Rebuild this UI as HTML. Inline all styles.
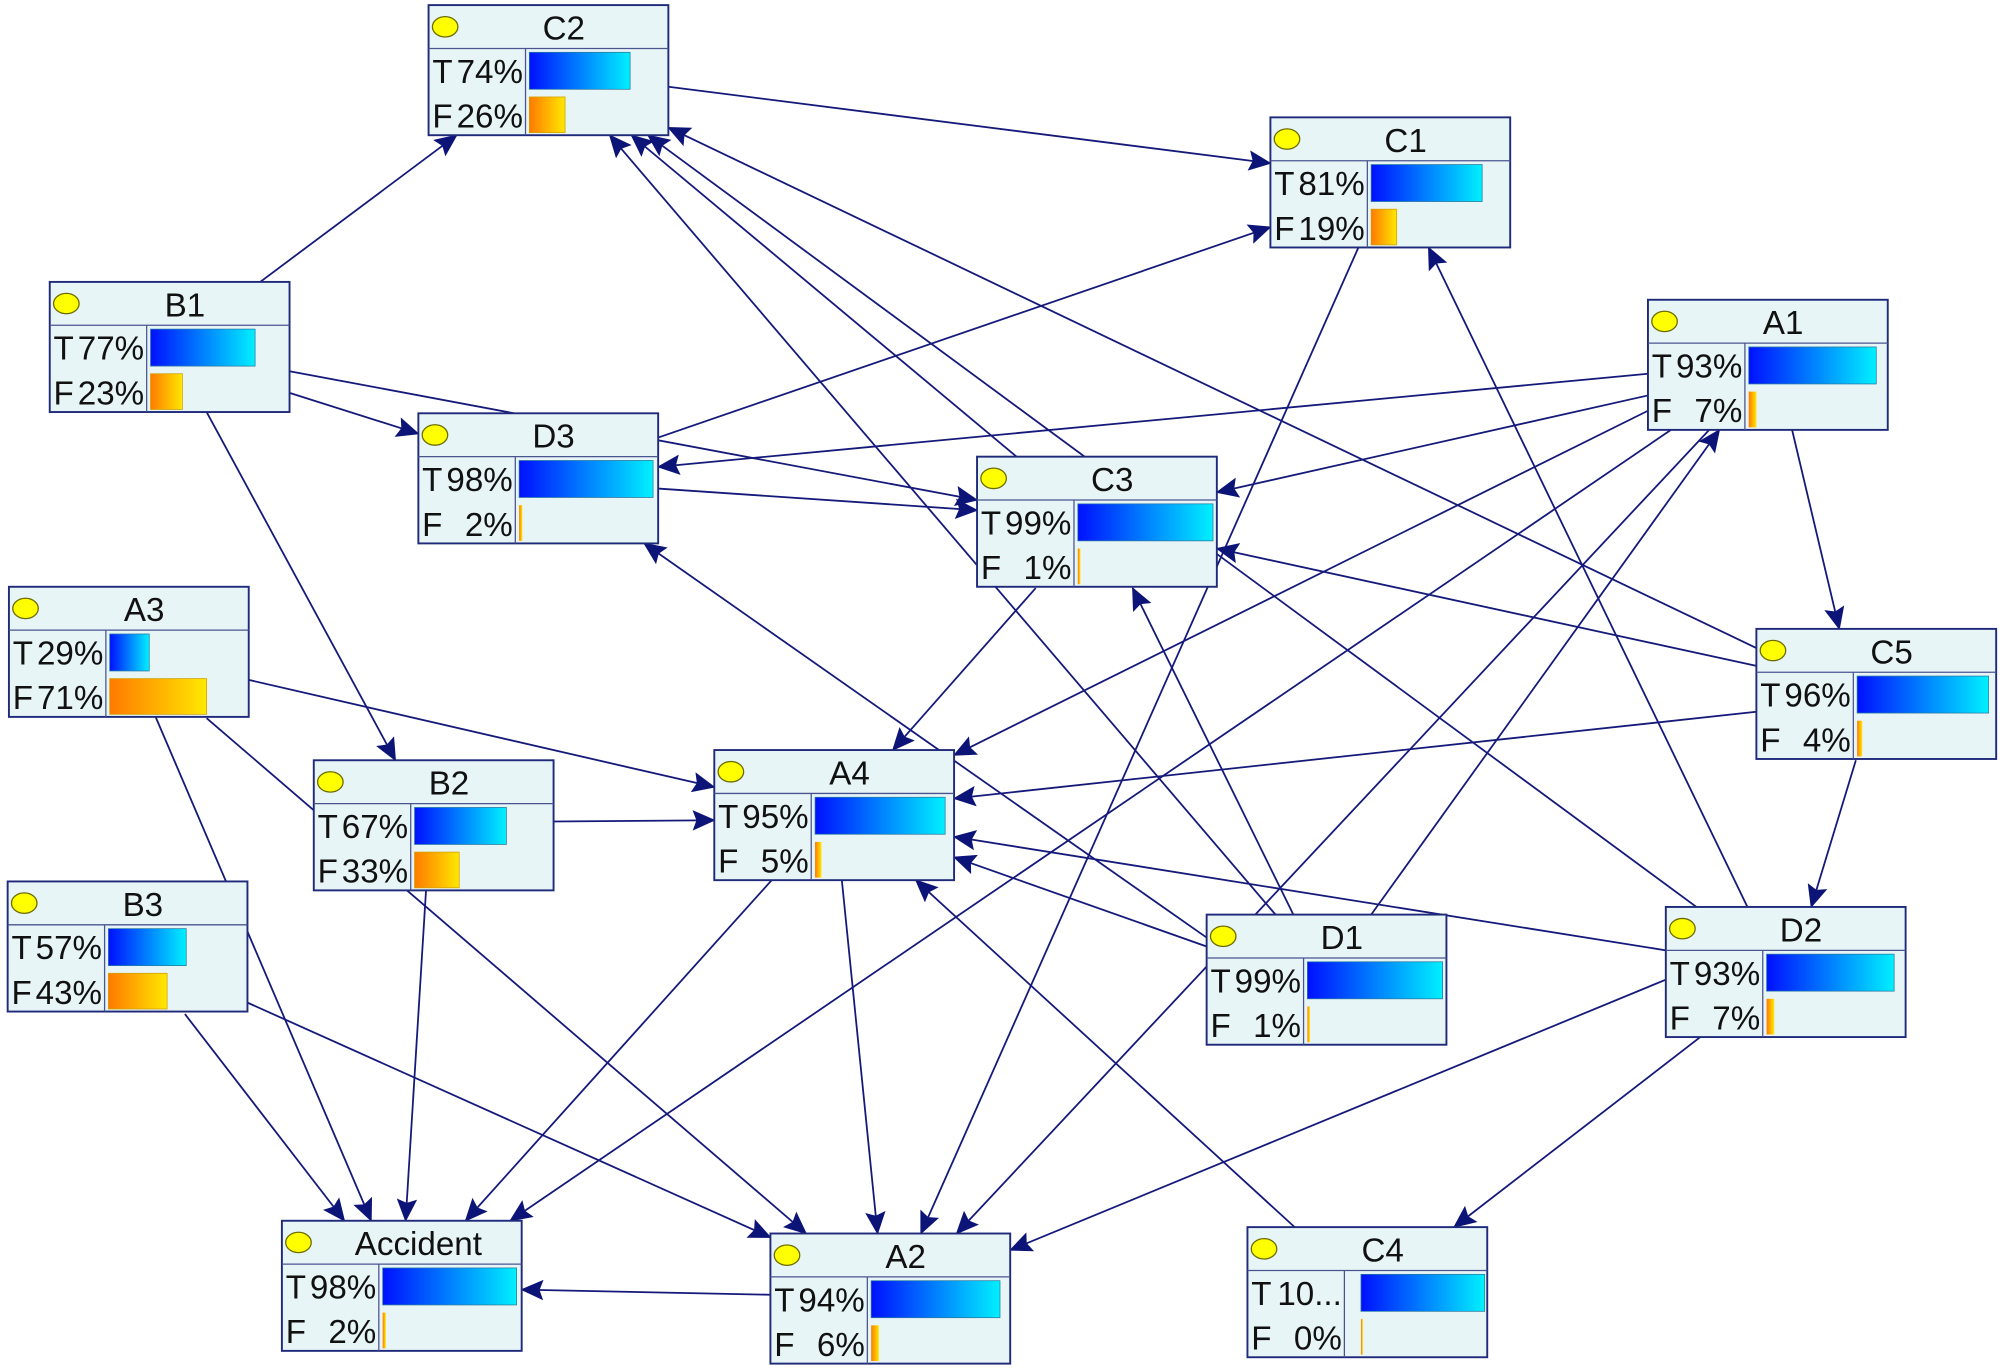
<!DOCTYPE html>
<html><head><meta charset="utf-8"><style>
html,body{margin:0;padding:0;background:#fff;}
svg{display:block;}
text{font-family:"Liberation Sans",sans-serif;font-size:26px;fill:#111;}
</style></head><body>
<svg width="2000" height="1370" viewBox="0 0 1568 1074" preserveAspectRatio="none" xmlns="http://www.w3.org/2000/svg">
<defs>
<linearGradient id="gT" x1="0" y1="0" x2="1" y2="0"><stop offset="0" stop-color="#0010ff"/><stop offset="1" stop-color="#00f0ff"/></linearGradient>
<linearGradient id="gF" x1="0" y1="0" x2="1" y2="0"><stop offset="0" stop-color="#ff7a00"/><stop offset="1" stop-color="#ffe800"/></linearGradient>
<marker id="ar" markerUnits="userSpaceOnUse" markerWidth="18" markerHeight="16" refX="17" refY="8" orient="auto"><path d="M0,0 L18,8 L0,16 L3,8 Z" fill="#0d1478"/></marker>
</defs>
<g stroke="#14197a" stroke-width="1.4" fill="none" marker-end="url(#ar)">
<line x1="204" y1="221" x2="358" y2="106"/>
<line x1="524" y1="68" x2="996" y2="128"/>
<line x1="227" y1="308" x2="328" y2="340"/>
<line x1="227" y1="291" x2="766" y2="392"/>
<line x1="516" y1="343" x2="996" y2="178"/>
<line x1="516" y1="383" x2="766" y2="400"/>
<line x1="1292" y1="293" x2="516" y2="366"/>
<line x1="1292" y1="310" x2="954" y2="386"/>
<line x1="1000" y1="717" x2="478" y2="106"/>
<line x1="797" y1="358" x2="495" y2="106"/>
<line x1="1330" y1="711" x2="508" y2="106"/>
<line x1="1377" y1="508" x2="524" y2="100"/>
<line x1="1065" y1="194" x2="722" y2="967"/>
<line x1="1370" y1="711" x2="1120" y2="194"/>
<line x1="1292" y1="322" x2="748" y2="592"/>
<line x1="1310" y1="337" x2="400" y2="957"/>
<line x1="1340" y1="337" x2="750" y2="967"/>
<line x1="1075" y1="717" x2="1348" y2="337"/>
<line x1="1405" y1="337" x2="1442" y2="493"/>
<line x1="1377" y1="522" x2="954" y2="430"/>
<line x1="1377" y1="558" x2="748" y2="626"/>
<line x1="1455" y1="596" x2="1420" y2="711"/>
<line x1="1306" y1="745" x2="748" y2="656"/>
<line x1="1306" y1="768" x2="792" y2="980"/>
<line x1="1333" y1="813" x2="1140" y2="962"/>
<line x1="946" y1="742" x2="748" y2="672"/>
<line x1="1014" y1="717" x2="888" y2="461"/>
<line x1="946" y1="735" x2="505" y2="426"/>
<line x1="812" y1="461" x2="700" y2="588"/>
<line x1="195" y1="533" x2="560" y2="617"/>
<line x1="162" y1="563" x2="632" y2="967"/>
<line x1="122" y1="562" x2="291" y2="957"/>
<line x1="162" y1="323" x2="310" y2="596"/>
<line x1="434" y1="644" x2="560" y2="643"/>
<line x1="334" y1="698" x2="318" y2="957"/>
<line x1="145" y1="795" x2="270" y2="957"/>
<line x1="194" y1="786" x2="604" y2="970"/>
<line x1="605" y1="690" x2="365" y2="957"/>
<line x1="660" y1="690" x2="688" y2="967"/>
<line x1="1015" y1="962" x2="718" y2="690"/>
<line x1="604" y1="1015" x2="409" y2="1011"/>
</g>

<g transform="translate(336,4)"><rect width="188" height="102" fill="#e8f5f7" stroke="#1f2a7a" stroke-width="1.5"/><line x1="0" y1="34" x2="188" y2="34" stroke="#4a5590"/><line x1="76" y1="34" x2="76" y2="102" stroke="#4a5590"/><ellipse cx="13" cy="17" rx="10" ry="8" fill="#ffff00" stroke="#6b6b00"/><text x="106" y="27" text-anchor="middle">C2</text><text x="3" y="61">T</text><text x="74" y="61" text-anchor="end">74%</text><text x="3" y="96">F</text><text x="74" y="96" text-anchor="end">26%</text><rect x="79" y="37" width="79" height="29" fill="url(#gT)" stroke="#2a7aa0" stroke-width="0.6"/><rect x="79" y="72" width="28" height="28" fill="url(#gF)" stroke="#d0a000" stroke-width="0.6"/></g>

<g transform="translate(996,92)"><rect width="188" height="102" fill="#e8f5f7" stroke="#1f2a7a" stroke-width="1.5"/><line x1="0" y1="34" x2="188" y2="34" stroke="#4a5590"/><line x1="76" y1="34" x2="76" y2="102" stroke="#4a5590"/><ellipse cx="13" cy="17" rx="10" ry="8" fill="#ffff00" stroke="#6b6b00"/><text x="106" y="27" text-anchor="middle">C1</text><text x="3" y="61">T</text><text x="74" y="61" text-anchor="end">81%</text><text x="3" y="96">F</text><text x="74" y="96" text-anchor="end">19%</text><rect x="79" y="37" width="87" height="29" fill="url(#gT)" stroke="#2a7aa0" stroke-width="0.6"/><rect x="79" y="72" width="20" height="28" fill="url(#gF)" stroke="#d0a000" stroke-width="0.6"/></g>

<g transform="translate(39,221)"><rect width="188" height="102" fill="#e8f5f7" stroke="#1f2a7a" stroke-width="1.5"/><line x1="0" y1="34" x2="188" y2="34" stroke="#4a5590"/><line x1="76" y1="34" x2="76" y2="102" stroke="#4a5590"/><ellipse cx="13" cy="17" rx="10" ry="8" fill="#ffff00" stroke="#6b6b00"/><text x="106" y="27" text-anchor="middle">B1</text><text x="3" y="61">T</text><text x="74" y="61" text-anchor="end">77%</text><text x="3" y="96">F</text><text x="74" y="96" text-anchor="end">23%</text><rect x="79" y="37" width="82" height="29" fill="url(#gT)" stroke="#2a7aa0" stroke-width="0.6"/><rect x="79" y="72" width="25" height="28" fill="url(#gF)" stroke="#d0a000" stroke-width="0.6"/></g>

<g transform="translate(1292,235)"><rect width="188" height="102" fill="#e8f5f7" stroke="#1f2a7a" stroke-width="1.5"/><line x1="0" y1="34" x2="188" y2="34" stroke="#4a5590"/><line x1="76" y1="34" x2="76" y2="102" stroke="#4a5590"/><ellipse cx="13" cy="17" rx="10" ry="8" fill="#ffff00" stroke="#6b6b00"/><text x="106" y="27" text-anchor="middle">A1</text><text x="3" y="61">T</text><text x="74" y="61" text-anchor="end">93%</text><text x="3" y="96">F</text><text x="74" y="96" text-anchor="end">7%</text><rect x="79" y="37" width="100" height="29" fill="url(#gT)" stroke="#2a7aa0" stroke-width="0.6"/><rect x="79" y="72" width="6" height="28" fill="url(#gF)"/></g>

<g transform="translate(328,324)"><rect width="188" height="102" fill="#e8f5f7" stroke="#1f2a7a" stroke-width="1.5"/><line x1="0" y1="34" x2="188" y2="34" stroke="#4a5590"/><line x1="76" y1="34" x2="76" y2="102" stroke="#4a5590"/><ellipse cx="13" cy="17" rx="10" ry="8" fill="#ffff00" stroke="#6b6b00"/><text x="106" y="27" text-anchor="middle">D3</text><text x="3" y="61">T</text><text x="74" y="61" text-anchor="end">98%</text><text x="3" y="96">F</text><text x="74" y="96" text-anchor="end">2%</text><rect x="79" y="37" width="105" height="29" fill="url(#gT)" stroke="#2a7aa0" stroke-width="0.6"/><rect x="79" y="72" width="2.5" height="28" fill="url(#gF)"/></g>

<g transform="translate(766,358)"><rect width="188" height="102" fill="#e8f5f7" stroke="#1f2a7a" stroke-width="1.5"/><line x1="0" y1="34" x2="188" y2="34" stroke="#4a5590"/><line x1="76" y1="34" x2="76" y2="102" stroke="#4a5590"/><ellipse cx="13" cy="17" rx="10" ry="8" fill="#ffff00" stroke="#6b6b00"/><text x="106" y="27" text-anchor="middle">C3</text><text x="3" y="61">T</text><text x="74" y="61" text-anchor="end">99%</text><text x="3" y="96">F</text><text x="74" y="96" text-anchor="end">1%</text><rect x="79" y="37" width="106" height="29" fill="url(#gT)" stroke="#2a7aa0" stroke-width="0.6"/><rect x="79" y="72" width="2" height="28" fill="url(#gF)"/></g>

<g transform="translate(7,460)"><rect width="188" height="102" fill="#e8f5f7" stroke="#1f2a7a" stroke-width="1.5"/><line x1="0" y1="34" x2="188" y2="34" stroke="#4a5590"/><line x1="76" y1="34" x2="76" y2="102" stroke="#4a5590"/><ellipse cx="13" cy="17" rx="10" ry="8" fill="#ffff00" stroke="#6b6b00"/><text x="106" y="27" text-anchor="middle">A3</text><text x="3" y="61">T</text><text x="74" y="61" text-anchor="end">29%</text><text x="3" y="96">F</text><text x="74" y="96" text-anchor="end">71%</text><rect x="79" y="37" width="31" height="29" fill="url(#gT)" stroke="#2a7aa0" stroke-width="0.6"/><rect x="79" y="72" width="76" height="28" fill="url(#gF)" stroke="#d0a000" stroke-width="0.6"/></g>

<g transform="translate(1377,493)"><rect width="188" height="102" fill="#e8f5f7" stroke="#1f2a7a" stroke-width="1.5"/><line x1="0" y1="34" x2="188" y2="34" stroke="#4a5590"/><line x1="76" y1="34" x2="76" y2="102" stroke="#4a5590"/><ellipse cx="13" cy="17" rx="10" ry="8" fill="#ffff00" stroke="#6b6b00"/><text x="106" y="27" text-anchor="middle">C5</text><text x="3" y="61">T</text><text x="74" y="61" text-anchor="end">96%</text><text x="3" y="96">F</text><text x="74" y="96" text-anchor="end">4%</text><rect x="79" y="37" width="103" height="29" fill="url(#gT)" stroke="#2a7aa0" stroke-width="0.6"/><rect x="79" y="72" width="4" height="28" fill="url(#gF)"/></g>

<g transform="translate(246,596)"><rect width="188" height="102" fill="#e8f5f7" stroke="#1f2a7a" stroke-width="1.5"/><line x1="0" y1="34" x2="188" y2="34" stroke="#4a5590"/><line x1="76" y1="34" x2="76" y2="102" stroke="#4a5590"/><ellipse cx="13" cy="17" rx="10" ry="8" fill="#ffff00" stroke="#6b6b00"/><text x="106" y="27" text-anchor="middle">B2</text><text x="3" y="61">T</text><text x="74" y="61" text-anchor="end">67%</text><text x="3" y="96">F</text><text x="74" y="96" text-anchor="end">33%</text><rect x="79" y="37" width="72" height="29" fill="url(#gT)" stroke="#2a7aa0" stroke-width="0.6"/><rect x="79" y="72" width="35" height="28" fill="url(#gF)" stroke="#d0a000" stroke-width="0.6"/></g>

<g transform="translate(560,588)"><rect width="188" height="102" fill="#e8f5f7" stroke="#1f2a7a" stroke-width="1.5"/><line x1="0" y1="34" x2="188" y2="34" stroke="#4a5590"/><line x1="76" y1="34" x2="76" y2="102" stroke="#4a5590"/><ellipse cx="13" cy="17" rx="10" ry="8" fill="#ffff00" stroke="#6b6b00"/><text x="106" y="27" text-anchor="middle">A4</text><text x="3" y="61">T</text><text x="74" y="61" text-anchor="end">95%</text><text x="3" y="96">F</text><text x="74" y="96" text-anchor="end">5%</text><rect x="79" y="37" width="102" height="29" fill="url(#gT)" stroke="#2a7aa0" stroke-width="0.6"/><rect x="79" y="72" width="5" height="28" fill="url(#gF)"/></g>

<g transform="translate(6,691)"><rect width="188" height="102" fill="#e8f5f7" stroke="#1f2a7a" stroke-width="1.5"/><line x1="0" y1="34" x2="188" y2="34" stroke="#4a5590"/><line x1="76" y1="34" x2="76" y2="102" stroke="#4a5590"/><ellipse cx="13" cy="17" rx="10" ry="8" fill="#ffff00" stroke="#6b6b00"/><text x="106" y="27" text-anchor="middle">B3</text><text x="3" y="61">T</text><text x="74" y="61" text-anchor="end">57%</text><text x="3" y="96">F</text><text x="74" y="96" text-anchor="end">43%</text><rect x="79" y="37" width="61" height="29" fill="url(#gT)" stroke="#2a7aa0" stroke-width="0.6"/><rect x="79" y="72" width="46" height="28" fill="url(#gF)" stroke="#d0a000" stroke-width="0.6"/></g>

<g transform="translate(946,717)"><rect width="188" height="102" fill="#e8f5f7" stroke="#1f2a7a" stroke-width="1.5"/><line x1="0" y1="34" x2="188" y2="34" stroke="#4a5590"/><line x1="76" y1="34" x2="76" y2="102" stroke="#4a5590"/><ellipse cx="13" cy="17" rx="10" ry="8" fill="#ffff00" stroke="#6b6b00"/><text x="106" y="27" text-anchor="middle">D1</text><text x="3" y="61">T</text><text x="74" y="61" text-anchor="end">99%</text><text x="3" y="96">F</text><text x="74" y="96" text-anchor="end">1%</text><rect x="79" y="37" width="106" height="29" fill="url(#gT)" stroke="#2a7aa0" stroke-width="0.6"/><rect x="79" y="72" width="2" height="28" fill="url(#gF)"/></g>

<g transform="translate(1306,711)"><rect width="188" height="102" fill="#e8f5f7" stroke="#1f2a7a" stroke-width="1.5"/><line x1="0" y1="34" x2="188" y2="34" stroke="#4a5590"/><line x1="76" y1="34" x2="76" y2="102" stroke="#4a5590"/><ellipse cx="13" cy="17" rx="10" ry="8" fill="#ffff00" stroke="#6b6b00"/><text x="106" y="27" text-anchor="middle">D2</text><text x="3" y="61">T</text><text x="74" y="61" text-anchor="end">93%</text><text x="3" y="96">F</text><text x="74" y="96" text-anchor="end">7%</text><rect x="79" y="37" width="100" height="29" fill="url(#gT)" stroke="#2a7aa0" stroke-width="0.6"/><rect x="79" y="72" width="6" height="28" fill="url(#gF)"/></g>

<g transform="translate(221,957)"><rect width="188" height="102" fill="#e8f5f7" stroke="#1f2a7a" stroke-width="1.5"/><line x1="0" y1="34" x2="188" y2="34" stroke="#4a5590"/><line x1="76" y1="34" x2="76" y2="102" stroke="#4a5590"/><ellipse cx="13" cy="17" rx="10" ry="8" fill="#ffff00" stroke="#6b6b00"/><text x="107" y="27" text-anchor="middle">Accident</text><text x="3" y="61">T</text><text x="74" y="61" text-anchor="end">98%</text><text x="3" y="96">F</text><text x="74" y="96" text-anchor="end">2%</text><rect x="79" y="37" width="105" height="29" fill="url(#gT)" stroke="#2a7aa0" stroke-width="0.6"/><rect x="79" y="72" width="2.5" height="28" fill="url(#gF)"/></g>

<g transform="translate(604,967)"><rect width="188" height="102" fill="#e8f5f7" stroke="#1f2a7a" stroke-width="1.5"/><line x1="0" y1="34" x2="188" y2="34" stroke="#4a5590"/><line x1="76" y1="34" x2="76" y2="102" stroke="#4a5590"/><ellipse cx="13" cy="17" rx="10" ry="8" fill="#ffff00" stroke="#6b6b00"/><text x="106" y="27" text-anchor="middle">A2</text><text x="3" y="61">T</text><text x="74" y="61" text-anchor="end">94%</text><text x="3" y="96">F</text><text x="74" y="96" text-anchor="end">6%</text><rect x="79" y="37" width="101" height="29" fill="url(#gT)" stroke="#2a7aa0" stroke-width="0.6"/><rect x="79" y="72" width="6" height="28" fill="url(#gF)"/></g>

<g transform="translate(978,962)"><rect width="188" height="102" fill="#e8f5f7" stroke="#1f2a7a" stroke-width="1.5"/><line x1="0" y1="34" x2="188" y2="34" stroke="#4a5590"/><line x1="76" y1="34" x2="76" y2="102" stroke="#4a5590"/><ellipse cx="13" cy="17" rx="10" ry="8" fill="#ffff00" stroke="#6b6b00"/><text x="106" y="27" text-anchor="middle">C4</text><text x="3" y="61">T</text><text x="74" y="61" text-anchor="end">10...</text><text x="3" y="96">F</text><text x="74" y="96" text-anchor="end">0%</text><rect x="89" y="37" width="97" height="29" fill="url(#gT)" stroke="#2a7aa0" stroke-width="0.6"/><rect x="89" y="72" width="1.5" height="28" fill="url(#gF)"/></g>
</svg>
</body></html>
